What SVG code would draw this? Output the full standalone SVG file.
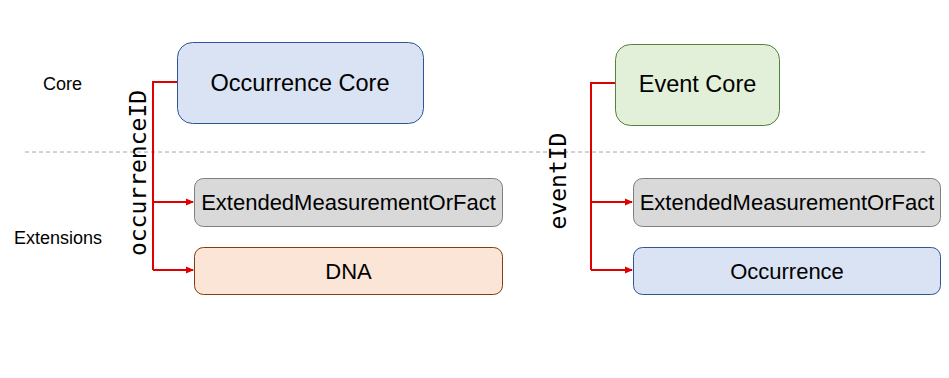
<svg xmlns="http://www.w3.org/2000/svg" width="949" height="378" viewBox="0 0 949 378">
<style>
.lbl{font-family:"Liberation Sans",Arial,sans-serif;fill:#000;text-anchor:middle}
.side{font-family:"Liberation Sans",Arial,sans-serif;font-size:18px;fill:#000}
.mono{font-family:"DejaVu Sans Mono","Liberation Mono",monospace;font-size:23px;fill:#000;text-anchor:middle}
.conn{fill:none;stroke:#E00000;stroke-width:2}
</style>
<defs>
<marker id="ah" markerWidth="8" markerHeight="8" refX="7" refY="4" orient="auto" markerUnits="userSpaceOnUse">
<path d="M0,0.5 L8,4 L0,7.5 Z" fill="#E00000"/>
</marker>
</defs>
<rect width="949" height="378" fill="#fff"/>
<line x1="25" y1="152" x2="926" y2="152" stroke="#A6A6A6" stroke-width="1" stroke-dasharray="4,3"/>
<text class="side" x="43" y="90">Core</text>
<text class="side" x="14" y="244">Extensions</text>
<text class="mono" transform="translate(146,173) rotate(-90)">occurrenceID</text>
<text class="mono" transform="translate(566,181) rotate(-90)">eventID</text>
<g id="connectors">
<path class="conn" d="M177,82 H153 V270"/>
<path class="conn" d="M153,202 H193" marker-end="url(#ah)"/>
<path class="conn" d="M153,270 H193" marker-end="url(#ah)"/>
<path class="conn" d="M615,83 H591 V270"/>
<path class="conn" d="M591,202 H632" marker-end="url(#ah)"/>
<path class="conn" d="M591,270 H632" marker-end="url(#ah)"/>
</g>
<g id="occurrence-core">
<rect x="177.5" y="42.5" width="246" height="81" rx="15" fill="#DAE3F3" stroke="#2F5597"/>
<text class="lbl" x="300" y="91" font-size="23.5">Occurrence Core</text>
</g>
<g id="emof-left">
<rect x="194.5" y="178.5" width="308" height="48" rx="9" fill="#D9D9D9" stroke="#7F7F7F"/>
<text class="lbl" x="348.5" y="210" font-size="22">ExtendedMeasurementOrFact</text>
</g>
<g id="dna">
<rect x="194.5" y="247.5" width="308" height="47" rx="9" fill="#FBE5D6" stroke="#843C0C"/>
<text class="lbl" x="348.5" y="279" font-size="22">DNA</text>
</g>
<g id="event-core">
<rect x="615.5" y="44.5" width="164" height="81" rx="15" fill="#E2F0D9" stroke="#548235"/>
<text class="lbl" x="697.5" y="92" font-size="23.5">Event Core</text>
</g>
<g id="emof-right">
<rect x="633.5" y="178.5" width="307" height="48" rx="9" fill="#D9D9D9" stroke="#7F7F7F"/>
<text class="lbl" x="787" y="210" font-size="22">ExtendedMeasurementOrFact</text>
</g>
<g id="occurrence">
<rect x="633.5" y="247.5" width="307" height="47" rx="9" fill="#DAE3F3" stroke="#2F5597"/>
<text class="lbl" x="787" y="279" font-size="22">Occurrence</text>
</g>
</svg>
